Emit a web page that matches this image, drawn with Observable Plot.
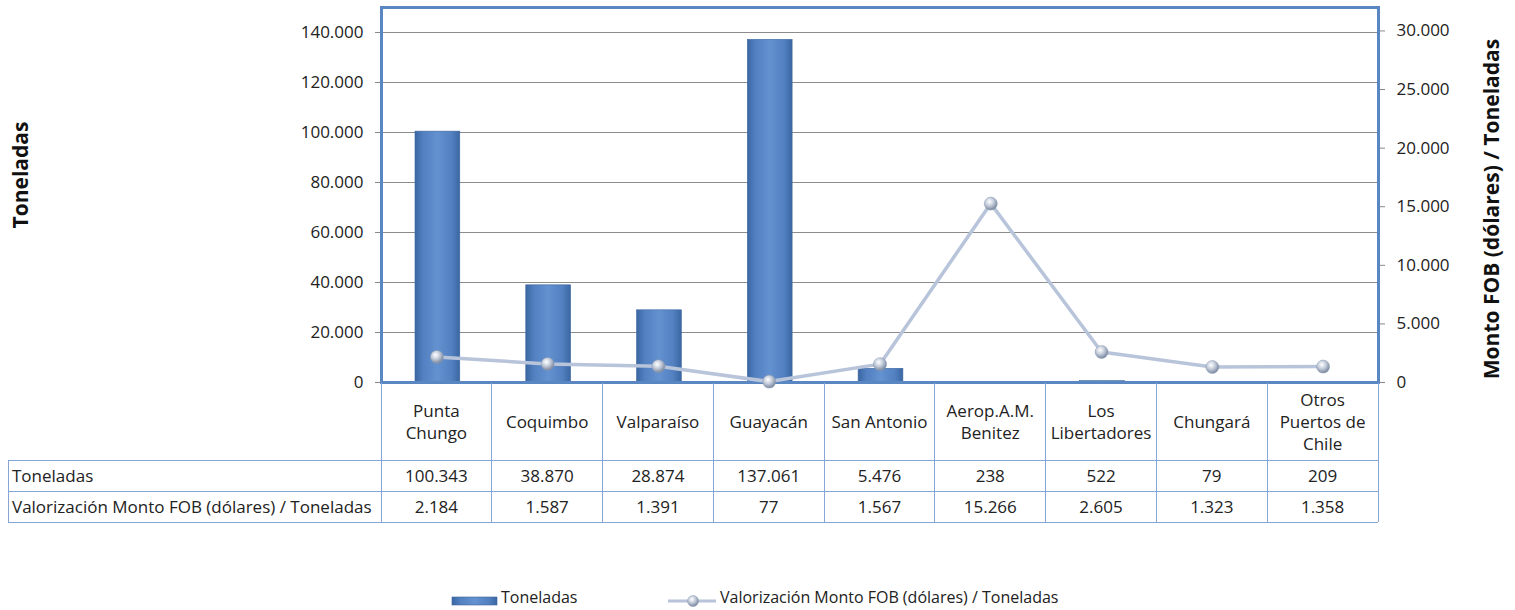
<!DOCTYPE html>
<html><head><meta charset="utf-8">
<script src="https://cdn.jsdelivr.net/npm/d3@7"></script>
<script src="https://cdn.jsdelivr.net/npm/@observablehq/plot@0.6"></script>
<style>
body{margin:0;background:#fff;}
#wrap{position:relative;width:1515px;height:610px;font-family:"Open Sans",Lato,sans-serif;color:#222;overflow:hidden;background:#fff}
#wrap svg{position:absolute;left:0;top:0;overflow:visible}
.title{position:absolute;font-weight:bold;font-size:21px;white-space:nowrap;transform:translate(-50%,-50%) rotate(-90deg);color:#111}
.cell{position:absolute;box-sizing:border-box;display:flex;align-items:center;justify-content:center;text-align:center;font-size:17px;line-height:22px;color:#222;white-space:nowrap}
.hline,.vline{position:absolute;background:#86a6d6}
.leg{position:absolute;font-size:16px;color:#222;white-space:nowrap}
</style></head><body><div id="wrap"></div>
<script>
const categories = ["Punta Chungo","Coquimbo","Valparaíso","Guayacán","San Antonio","Aerop.A.M. Benitez","Los Libertadores","Chungará","Otros Puertos de Chile"];
const categoryLines = [["Punta","Chungo"],["Coquimbo"],["Valparaíso"],["Guayacán"],["San Antonio"],["Aerop.A.M.","Benitez"],["Los","Libertadores"],["Chungará"],["Otros","Puertos de","Chile"]];
const toneladas = [100343, 38870, 28874, 137061, 5476, 238, 522, 79, 209];
const valorFOB = [2184, 1587, 1391, 77, 1567, 15266, 2605, 1323, 1358];
const leftTicks = [0, 20000, 40000, 60000, 80000, 100000, 120000, 140000];
const rightTicks = [0, 5000, 10000, 15000, 20000, 25000, 30000];
const leftMax = 150000;
const rightMax = 32000;
const seriesNames = ["Toneladas", "Valorización Monto FOB (dólares) / Toneladas"];
const leftTitle = "Toneladas";
const rightTitle = "Monto FOB (dólares) / Toneladas";

const k = leftMax / rightMax;
const fmt = d3.formatLocale({decimal: ",", thousands: ".", grouping: [3], currency: ["$", ""]}).format(",d");
const rows = categories.map((c, i) => ({c, t: toneladas[i], v: valorFOB[i] * k}));

const defs = () => {
  const d = d3.create("svg:defs");
  const g = d.append("linearGradient").attr("id", "barGrad").attr("x1", 0).attr("x2", 1).attr("y1", 0).attr("y2", 0);
  [[0, "#3b66a3"], [0.18, "#5280c0"], [0.5, "#6491d0"], [0.82, "#5280c0"], [1, "#3b66a3"]]
    .forEach(([o, c]) => g.append("stop").attr("offset", o).attr("stop-color", c));
  const r = d.append("radialGradient").attr("id", "dotGrad").attr("cx", "40%").attr("cy", "35%").attr("r", "65%");
  [[0, "#ffffff"], [0.45, "#c9d1de"], [1, "#7a879f"]]
    .forEach(([o, c]) => r.append("stop").attr("offset", o).attr("stop-color", c));
  return d.node();
};

const chart = Plot.plot({
  width: 1515, height: 390,
  marginLeft: 381, marginRight: 137, marginTop: 7, marginBottom: 8,
  style: {fontFamily: "'Open Sans', Lato, sans-serif", fontSize: "17px", color: "#222", background: "transparent"},
  x: {domain: categories, padding: 0, round: false, axis: null},
  y: {domain: [0, leftMax], axis: null},
  marks: [
    defs,
    Plot.gridY(leftTicks, {stroke: "#8c8c8c", strokeOpacity: 1, strokeWidth: 1}),
    Plot.axisY(leftTicks, {anchor: "left", tickFormat: fmt, tickSize: 6, tickPadding: 12, label: null, fontSize: 17, stroke: "#888"}),
    Plot.axisY(rightTicks.map(d => d * k), {anchor: "right", tickFormat: d => fmt(Math.round(d / k)), tickSize: 6, tickPadding: 12, label: null, fontSize: 17, stroke: "#888"}),
    Plot.barY(rows, {x: "c", y: "t", fill: "url(#barGrad)", insetLeft: 34, insetRight: 32, stroke: "#3d679f", strokeWidth: 0.6}),
    Plot.frame({stroke: "#5a86c2", strokeWidth: 3}),
    Plot.line(rows, {x: "c", y: "v", stroke: "#b8c4da", strokeWidth: 3.5}),
    Plot.dot(rows, {x: "c", y: "v", r: 6.5, fill: "url(#dotGrad)", stroke: "#8b9ab3", strokeWidth: 0.5})
  ]
});
const wrap = document.getElementById("wrap");
wrap.appendChild(chart);

// axis titles
const addTitle = (txt, x, y) => { const d = document.createElement("div"); d.className = "title"; d.textContent = txt; d.style.left = x + "px"; d.style.top = y + "px"; wrap.appendChild(d); };
addTitle(leftTitle, 20, 175);
addTitle(rightTitle, 1491, 209);

// data table aligned to the x scale
const xs = chart.scale("x");
const bw = xs.bandwidth;
const x0 = xs.apply(categories[0]);
const xEnd = xs.apply(categories[categories.length - 1]) + bw;
const tTop = 383, hBottom = 460, r1Bottom = 491, r2Bottom = 522, tLeft = 8;
const add = (cls, css, html) => { const d = document.createElement("div"); d.className = cls; Object.assign(d.style, css); if (html != null) d.innerHTML = html; wrap.appendChild(d); return d; };
categories.forEach((c, i) => {
  const xl = xs.apply(c);
  add("cell", {left: xl + "px", top: tTop + "px", width: bw + "px", height: (hBottom - tTop) + "px"}, categoryLines[i].join("<br>"));
  add("cell", {left: xl + "px", top: hBottom + "px", width: bw + "px", height: (r1Bottom - hBottom) + "px"}, fmt(toneladas[i]));
  add("cell", {left: xl + "px", top: r1Bottom + "px", width: bw + "px", height: (r2Bottom - r1Bottom) + "px"}, fmt(valorFOB[i]));
});
add("cell", {left: (tLeft + 4) + "px", top: hBottom + "px", width: (x0 - tLeft - 4) + "px", height: (r1Bottom - hBottom) + "px", justifyContent: "flex-start"}, seriesNames[0]);
add("cell", {left: (tLeft + 4) + "px", top: r1Bottom + "px", width: (x0 - tLeft - 4) + "px", height: (r2Bottom - r1Bottom) + "px", justifyContent: "flex-start"}, seriesNames[1]);
// grid lines
[...categories.map(c => xs.apply(c)), xEnd].forEach(x => add("vline", {left: (x - 0.5) + "px", top: tTop + "px", width: "1px", height: (r2Bottom - tTop) + "px"}));
add("vline", {left: tLeft + "px", top: hBottom + "px", width: "1px", height: (r2Bottom - hBottom) + "px"});
[hBottom, r1Bottom, r2Bottom].forEach(y => add("hline", {left: tLeft + "px", top: y + "px", width: (xEnd - tLeft) + "px", height: "1px"}));

// legend
add("leg", {left: "452px", top: "588px"}, `<svg width="46" height="14" style="position:static;vertical-align:middle"><rect x="0" y="3" width="45" height="8" fill="url(#barGrad)" stroke="#3d679f" stroke-width="0.6"/></svg>`);
add("leg", {left: "501px", top: "586px"}, seriesNames[0]);
add("leg", {left: "668px", top: "588px"}, `<svg width="50" height="16" style="position:static;vertical-align:middle"><line x1="0" x2="48" y1="8" y2="8" stroke="#b8c4da" stroke-width="3"/><circle cx="25" cy="8" r="5.5" fill="url(#dotGrad)" stroke="#8b9ab3" stroke-width="0.5"/></svg>`);
add("leg", {left: "720px", top: "586px"}, seriesNames[1]);
</script></body></html>
